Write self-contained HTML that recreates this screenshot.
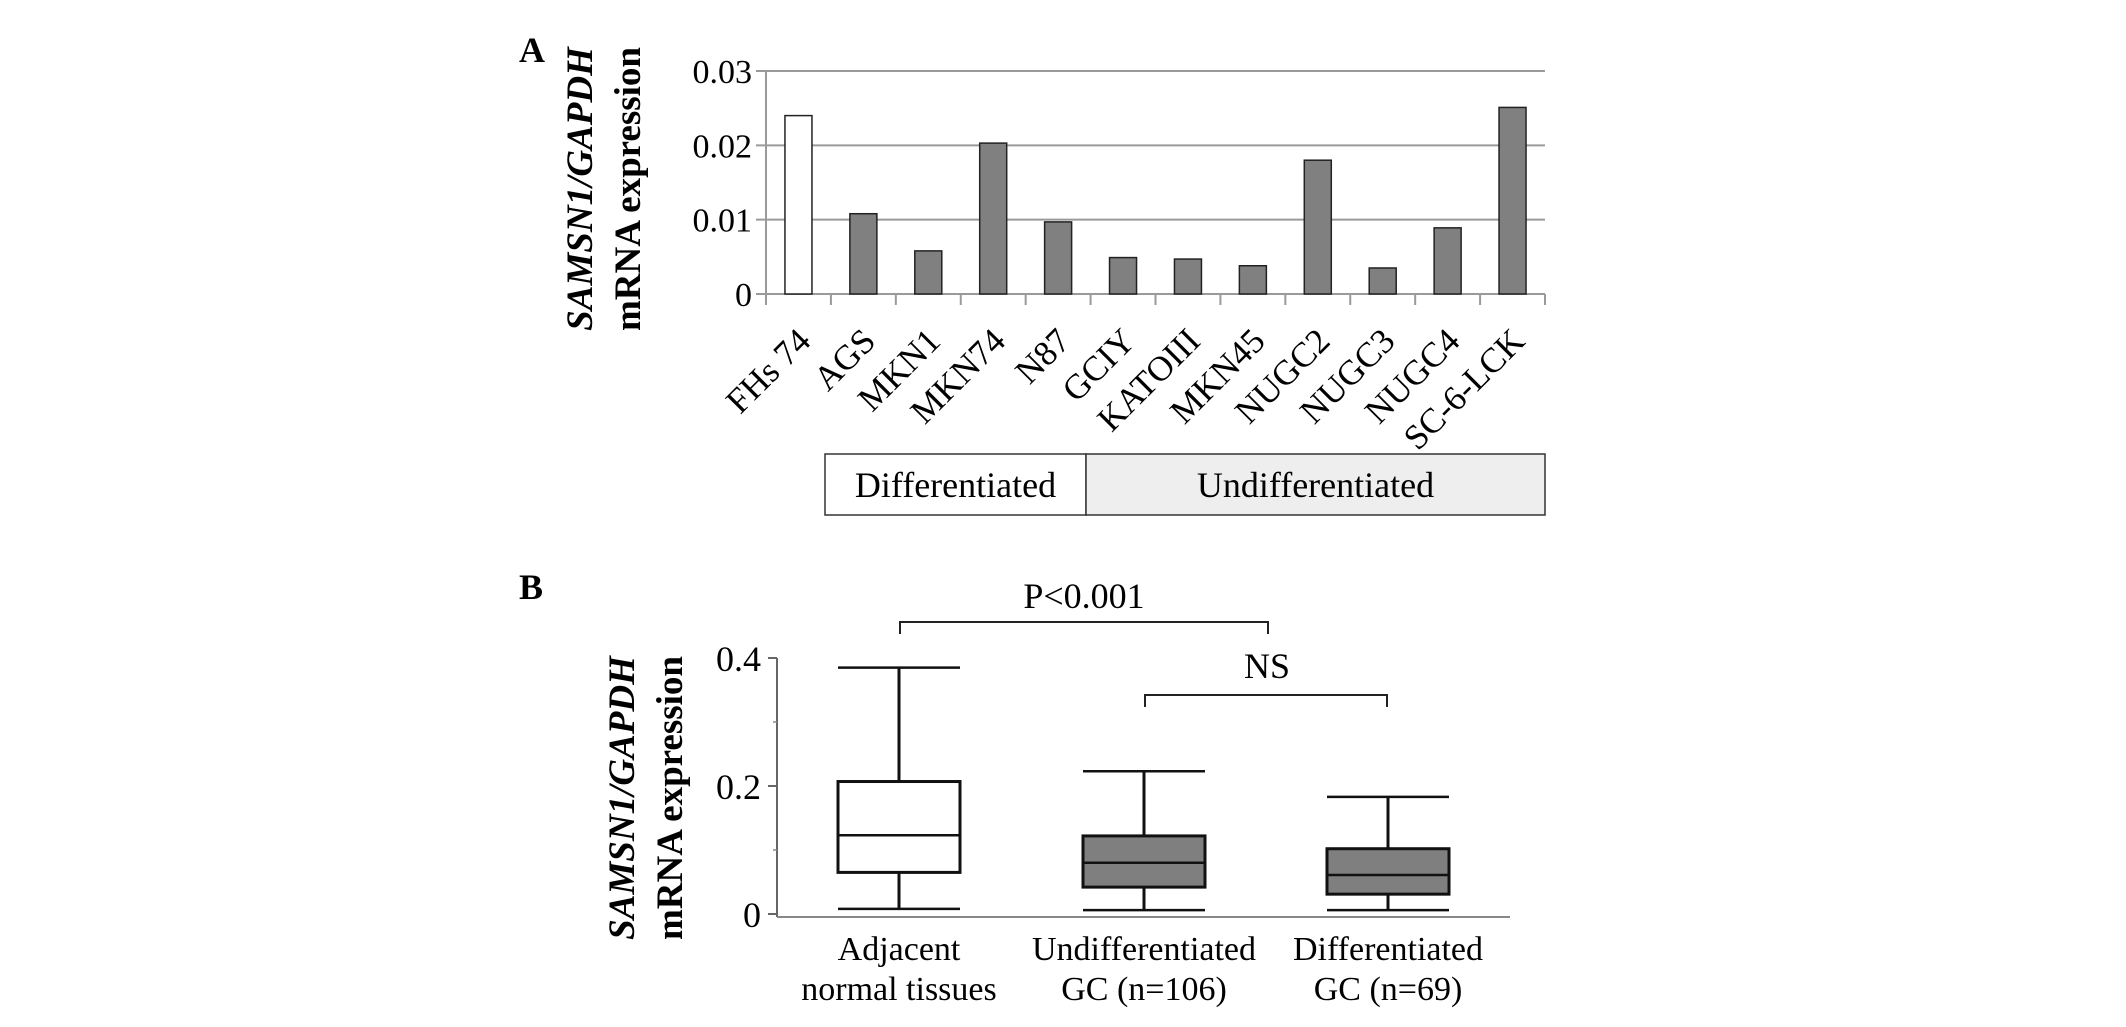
<!DOCTYPE html>
<html><head><meta charset="utf-8"><style>
html,body{margin:0;padding:0;background:#fff;}
svg{display:block;font-family:"Liberation Serif",serif;}
</style></head><body>
<svg id="fig" width="2126" height="1027" viewBox="0 0 2126 1027" xmlns="http://www.w3.org/2000/svg">
<text x="519" y="62" font-size="36" font-weight="bold">A</text>
<text x="519" y="599" font-size="36" font-weight="bold">B</text>
<g transform="translate(592,189) rotate(-90)" font-size="37" font-weight="bold" text-anchor="middle">
<text x="0" y="0" font-style="italic">SAMSN1/GAPDH</text>
<text x="0" y="48">mRNA expression</text>
</g>
<g transform="translate(634,798) rotate(-90)" font-size="37" font-weight="bold" text-anchor="middle">
<text x="0" y="0" font-style="italic">SAMSN1/GAPDH</text>
<text x="0" y="48">mRNA expression</text>
</g>
<g id="chartA"></g>
<g id="chartB"></g>
</svg>
<script>
const categoriesA = ["FHs 74","AGS","MKN1","MKN74","N87","GCIY","KATOIII","MKN45","NUGC2","NUGC3","NUGC4","SC-6-LCK"];
const valuesA = [0.024,0.0108,0.0058,0.0203,0.0097,0.0049,0.0047,0.0038,0.018,0.0035,0.0089,0.0251];
const ticksA = [0,0.01,0.02,0.03];
const tickLabelsA = ["0","0.01","0.02","0.03"];
const groupsA = ["Differentiated","Undifferentiated"];

const categoriesB = ["Adjacent|normal tissues","Undifferentiated|GC (n=106)","Differentiated|GC (n=69)"];
const whiskerLowB = [0.008,0.006,0.006];
const q1B = [0.065,0.042,0.031];
const medianB = [0.123,0.08,0.061];
const q3B = [0.207,0.122,0.102];
const whiskerHighB = [0.385,0.223,0.183];
const ticksB = [0,0.2,0.4];
const tickLabelsB = ["0","0.2","0.4"];
const minorTicksB = [0.1,0.3];

const NS="http://www.w3.org/2000/svg";
function mk(parent,tag,attrs,text){const e=document.createElementNS(NS,tag);for(const k in attrs)e.setAttribute(k,attrs[k]);if(text!==undefined)e.textContent=text;parent.appendChild(e);return e;}

// Chart A
const gA=document.getElementById('chartA');
const ax0=766, ax1=1545, ay0=294, ay1=71;
const yA=v=>ay0-(v/0.03)*(ay0-ay1);
const bw=(ax1-ax0)/categoriesA.length;
const xA=i=>ax0+bw*(i+0.5);
ticksA.forEach((t,i)=>{
  const l=mk(gA,'line',{x1:ax0-10,x2:ax1,y1:yA(t),y2:yA(t),stroke:'#9a9a9a','stroke-width':2});
  
  
  const tx=mk(gA,'text',{x:ax0-14,y:yA(t)+12,'font-size':34,'text-anchor':'end'},tickLabelsA[i]);
  
  
});
const axA=mk(gA,'line',{x1:ax0,x2:ax0,y1:ay1,y2:ay0+10,stroke:'#9a9a9a','stroke-width':2});


for(let i=0;i<=categoriesA.length;i++){
  const t=mk(gA,'line',{x1:ax0+bw*i,x2:ax0+bw*i,y1:ay0,y2:ay0+11,stroke:'#9a9a9a','stroke-width':2});
  
  
}
categoriesA.forEach((c,i)=>{
  const r=mk(gA,'rect',{x:xA(i)-13.5,y:yA(valuesA[i]),width:27,height:ay0-yA(valuesA[i]),fill:i===0?'#fff':'#808080',stroke:'#222','stroke-width':1.5});
  
  
  const cx=xA(i)+14, cy=343;
  const t=mk(gA,'text',{x:cx,y:cy,'font-size':35,'text-anchor':'end',transform:`rotate(-45 ${cx} ${cy})`},c);
  
  
});
// group boxes
const gbx=[825,1086,1545];
groupsA.forEach((g,i)=>{
  const r=mk(gA,'rect',{x:gbx[i],y:454,width:gbx[i+1]-gbx[i],height:61,fill:i===0?'#fff':'#eeeeee',stroke:'#333','stroke-width':1.5});
  
  
  const t=mk(gA,'text',{x:(gbx[i]+gbx[i+1])/2,y:497,'font-size':36,'text-anchor':'middle'},g);
  
  
});

// Chart B
const gB=document.getElementById('chartB');
const bx0=777, bx1=1510, by0=914, by1=658;
const yB=v=>by0-(v/0.4)*(by0-by1);
const centersB=[899,1144,1388];
const hw=61;
const axB=mk(gB,'line',{x1:bx0,x2:bx0,y1:by1,y2:917,stroke:'#666','stroke-width':2});


const baseB=mk(gB,'line',{x1:bx0,x2:bx1,y1:917,y2:917,stroke:'#888','stroke-width':2});


ticksB.forEach((t,i)=>{
  const l=mk(gB,'line',{x1:bx0-9,x2:bx0,y1:yB(t),y2:yB(t),stroke:'#666','stroke-width':2});
  
  
  const tx=mk(gB,'text',{x:bx0-16,y:yB(t)+13,'font-size':36,'text-anchor':'end'},tickLabelsB[i]);
  
  
});
minorTicksB.forEach(t=>{
  const l=mk(gB,'line',{x1:bx0-4,x2:bx0,y1:yB(t),y2:yB(t),stroke:'#888','stroke-width':1.5});
  
  
});
categoriesB.forEach((c,i)=>{
  const cx=centersB[i];
  const g=mk(gB,'g',{stroke:'#111','stroke-width':3});
  
  
  mk(g,'line',{x1:cx,x2:cx,y1:yB(whiskerHighB[i]),y2:yB(q3B[i])});
  mk(g,'line',{x1:cx,x2:cx,y1:yB(q1B[i]),y2:yB(whiskerLowB[i])});
  mk(g,'line',{x1:cx-hw,x2:cx+hw,y1:yB(whiskerHighB[i]),y2:yB(whiskerHighB[i]),'stroke-width':2.5});
  mk(g,'line',{x1:cx-hw,x2:cx+hw,y1:yB(whiskerLowB[i]),y2:yB(whiskerLowB[i]),'stroke-width':2.5});
  mk(g,'rect',{x:cx-hw,y:yB(q3B[i]),width:2*hw,height:yB(q1B[i])-yB(q3B[i]),fill:i===0?'#fff':'#7f7f7f'});
  mk(g,'line',{x1:cx-hw,x2:cx+hw,y1:yB(medianB[i]),y2:yB(medianB[i]),'stroke-width':2.5});
  const parts=c.split('|');
  const t1=mk(gB,'text',{x:cx,y:960,'font-size':34,'text-anchor':'middle'},parts[0]);
  
  
  const t2=mk(gB,'text',{x:cx,y:1000,'font-size':34,'text-anchor':'middle'},parts[1]);
  
  
});
// significance brackets
const p=mk(gB,'path',{d:'M900 634 V622 H1268 V634',fill:'none',stroke:'#222','stroke-width':2});


const pt=mk(gB,'text',{x:1084,y:608,'font-size':36,'text-anchor':'middle'},'P<0.001');


const n=mk(gB,'path',{d:'M1145 707 V695 H1387 V707',fill:'none',stroke:'#222','stroke-width':2});


const nt=mk(gB,'text',{x:1267,y:678,'font-size':36,'text-anchor':'middle'},'NS');


</script>
</body></html>
